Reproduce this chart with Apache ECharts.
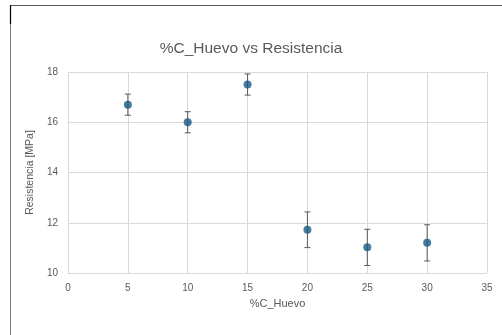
<!DOCTYPE html>
<html><head><meta charset="utf-8">
<script src="https://cdn.jsdelivr.net/npm/echarts@6/dist/echarts.min.js"></script>
<style>html,body{margin:0;padding:0;background:#fff}#c{width:502px;height:335px}</style>
</head><body><div id="c"></div>
<script>
var xValues = [5, 10, 15, 20, 25, 30];
var resistencia = [16.7, 16.0, 17.5, 11.72, 11.02, 11.2];
var errores = [0.42, 0.42, 0.42, 0.71, 0.72, 0.72];
var xTicks = [0, 5, 10, 15, 20, 25, 30, 35];
var yTicks = [10, 12, 14, 16, 18];

var font = 'Liberation Sans, Arial, sans-serif';
var chart = echarts.init(document.getElementById('c'), null, {renderer: 'canvas'});
var pts = xValues.map(function (x, i) { return [x, resistencia[i]]; });
var errData = xValues.map(function (x, i) { return [x, resistencia[i] - errores[i], resistencia[i] + errores[i]]; });

chart.setOption({
  animation: false,
  backgroundColor: '#fff',
  title: {
    text: '%C_Huevo vs Resistencia', left: 'center', top: 36,
    textStyle: {fontFamily: font, fontSize: 15.5, fontWeight: 'normal', color: '#595959'}
  },
  grid: {left: 68, right: 15, top: 72, bottom: 62},
  xAxis: {
    type: 'value', min: xTicks[0], max: xTicks[xTicks.length - 1], interval: 5,
    name: '%C_Huevo', nameLocation: 'middle', nameGap: 25,
    nameTextStyle: {fontFamily: font, fontSize: 11, color: '#595959'},
    axisLine: {show: false}, axisTick: {show: false},
    axisLabel: {fontFamily: font, fontSize: 10, color: '#595959', margin: 10},
    splitLine: {show: true, lineStyle: {color: '#d9d9d9', width: 1}}
  },
  yAxis: {
    type: 'value', min: yTicks[0], max: yTicks[yTicks.length - 1], interval: 2,
    name: 'Resistencia [MPa]', nameLocation: 'middle', nameGap: 30,
    nameTextStyle: {fontFamily: font, fontSize: 10.5, color: '#595959'},
    axisLine: {show: false}, axisTick: {show: false},
    axisLabel: {fontFamily: font, fontSize: 10, color: '#595959', margin: 10},
    splitLine: {show: true, lineStyle: {color: '#d9d9d9', width: 1}}
  },
  series: [
    {
      type: 'custom',
      data: errData,
      z: 2,
      renderItem: function (params, api) {
        var x = api.value(0);
        var lo = api.coord([x, api.value(1)]);
        var hi = api.coord([x, api.value(2)]);
        var w = 3;
        var st = {stroke: '#595959', lineWidth: 1};
        return {type: 'group', children: [
          {type: 'line', shape: {x1: lo[0], y1: lo[1], x2: hi[0], y2: hi[1]}, style: st},
          {type: 'line', shape: {x1: lo[0] - w, y1: lo[1], x2: lo[0] + w, y2: lo[1]}, style: st},
          {type: 'line', shape: {x1: hi[0] - w, y1: hi[1], x2: hi[0] + w, y2: hi[1]}, style: st}
        ]};
      }
    },
    {
      type: 'scatter', data: pts, symbol: 'circle', symbolSize: 8, z: 3,
      itemStyle: {color: '#175a84'}
    }
  ],
  graphic: [
    {type: 'line', shape: {x1: 10, y1: 5.5, x2: 502, y2: 5.5}, style: {stroke: '#595959', lineWidth: 1}, silent: true},
    {type: 'line', shape: {x1: 10.5, y1: 5, x2: 10.5, y2: 335}, style: {stroke: '#7f7f7f', lineWidth: 1}, silent: true},
    {type: 'line', shape: {x1: 10.5, y1: 5, x2: 10.5, y2: 24}, style: {stroke: '#000', lineWidth: 1.2}, silent: true}
  ]
});
</script>
</body></html>
